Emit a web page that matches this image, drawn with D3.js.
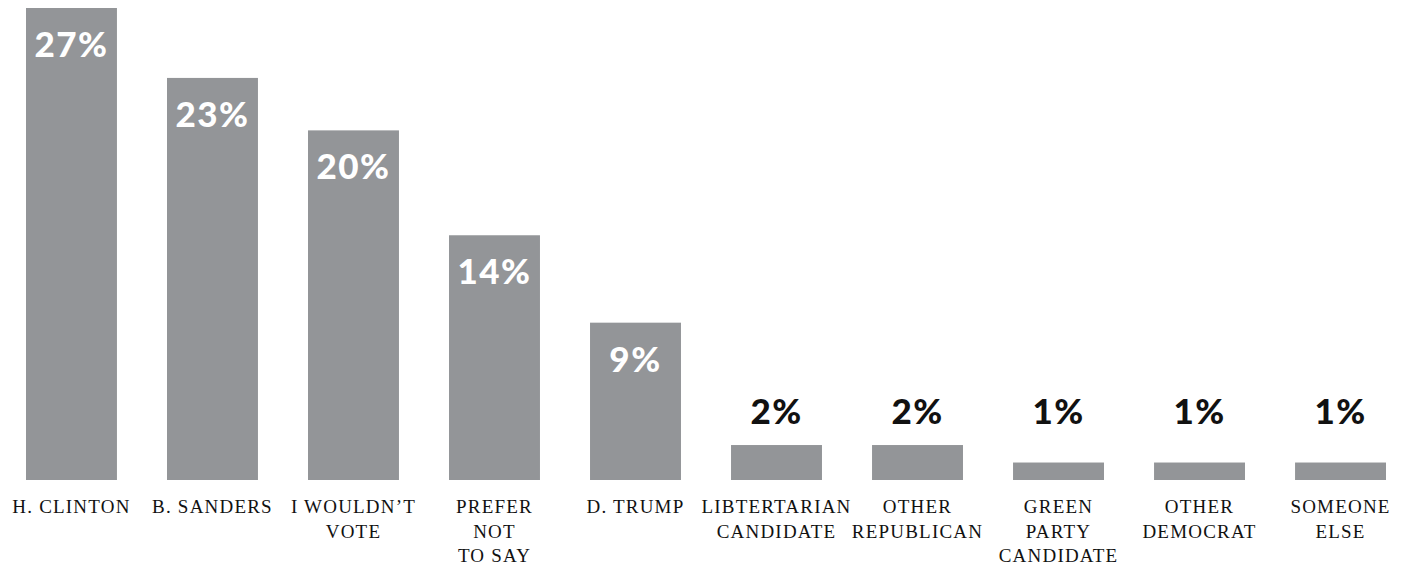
<!DOCTYPE html>
<html>
<head>
<meta charset="utf-8">
<script src="https://cdn.jsdelivr.net/npm/d3@7/dist/d3.min.js"></script>
<style>
  html, body { margin: 0; padding: 0; background: #fff; }
  svg { display: block; }
</style>
</head>
<body>
<svg id="chart" width="1411" height="566"></svg>
<script>
// Survey responses: share of respondents per choice
const categories = [
  ["H. CLINTON"],
  ["B. SANDERS"],
  ["I WOULDN\u2019T", "VOTE"],
  ["PREFER", "NOT", "TO SAY"],
  ["D. TRUMP"],
  ["LIBTERTARIAN", "CANDIDATE"],
  ["OTHER", "REPUBLICAN"],
  ["GREEN", "PARTY", "CANDIDATE"],
  ["OTHER", "DEMOCRAT"],
  ["SOMEONE", "ELSE"]
];
const values = [27, 23, 20, 14, 9, 2, 2, 1, 1, 1];
const valueLabels = ["27%", "23%", "20%", "14%", "9%", "2%", "2%", "1%", "1%", "1%"];

const svg = d3.select("#chart");
const baseline = 480;
const plotTop = 8;

const x = d3.scaleBand()
  .domain(d3.range(values.length))
  .range([26, 1386])
  .paddingInner(0.355)
  .paddingOuter(0);

const y = d3.scaleLinear()
  .domain([0, 27])
  .range([baseline, plotTop]);

const barColor = "#939598";

// bars
svg.append("g")
  .selectAll("rect")
  .data(values)
  .join("rect")
  .attr("x", (d, i) => x(i))
  .attr("y", d => y(d))
  .attr("width", x.bandwidth())
  .attr("height", d => baseline - y(d))
  .attr("fill", barColor);

// value labels: white inside tall bars; short bars share one label row above them
const insideMin = 5;
const outsideRow = y(d3.max(values.filter(v => v < insideMin))) - 21;
svg.append("g")
  .selectAll("text")
  .data(values)
  .join("text")
  .attr("x", (d, i) => x(i) + x.bandwidth() / 2)
  .attr("y", d => d >= insideMin ? y(d) + 49 : outsideRow)
  .attr("text-anchor", "middle")
  .attr("font-family", "Lato, 'Open Sans', sans-serif")
  .attr("font-weight", 900)
  .attr("font-size", 35)
  .attr("letter-spacing", 1.5)
  .attr("fill", d => d >= insideMin ? "#ffffff" : "#111111")
  .text((d, i) => valueLabels[i]);

// category labels under the baseline
const catG = svg.append("g")
  .selectAll("text")
  .data(categories)
  .join("text")
  .attr("x", (d, i) => x(i) + x.bandwidth() / 2)
  .attr("y", 513)
  .attr("text-anchor", "middle")
  .attr("font-family", "'Liberation Serif', 'DejaVu Serif', serif")
  .attr("font-size", 19)
  .attr("letter-spacing", 1.2)
  .attr("fill", "#111111");

catG.selectAll("tspan")
  .data(d => d)
  .join("tspan")
  .attr("x", function () { return d3.select(this.parentNode).attr("x"); })
  .attr("dy", (d, j) => j === 0 ? 0 : 24.5)
  .text(d => d);
</script>
</body>
</html>
